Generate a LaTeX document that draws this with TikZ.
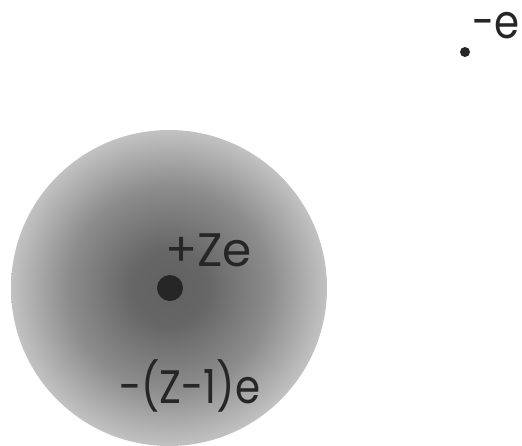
\documentclass[tikz,border=0pt]{standalone}
\usepackage{fontspec}
\usepackage{graphicx}
\setmainfont{Poppins}
\pgfdeclareradialshading{cloud}{\pgfpoint{0bp}{0bp}}{%
  color(0bp)=(black!62);
  color(6bp)=(black!60);
  color(16bp)=(black!45);
  color(25bp)=(black!24);
  color(50bp)=(black!24)}
\begin{document}
\begin{tikzpicture}[x=1pt,y=-1pt,
  lbl/.style={inner sep=0pt,anchor=base west,font=\fontsize{47}{50}\selectfont,text=black!85},
  dotst/.style={circle,fill=black!85,inner sep=0pt}]
\useasboundingbox (0,0) rectangle (522,445);
\shade[shading=cloud] (169,288) circle[radius=158];
\node[dotst,minimum size=26pt] (nucleus) at (170,288) {};
\node[lbl] (ze) at (165,266) {+Ze};
\node[lbl] (shell) at (119,403) {\scalebox{0.86}[1]{-(Z-1)e}};
\node[dotst,minimum size=10pt] (electron) at (465,52) {};
\node[lbl,anchor=base east] (el) at (520,38) {\scalebox{0.86}[1]{-e}};
\end{tikzpicture}
\end{document}
